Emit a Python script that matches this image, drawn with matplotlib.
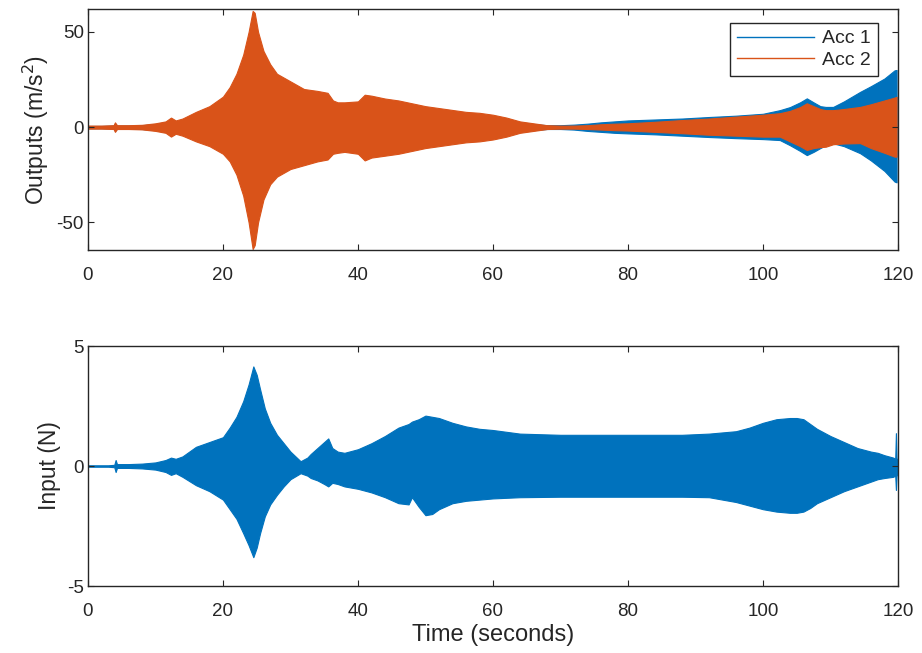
import matplotlib
matplotlib.use("Agg")
import matplotlib.pyplot as plt
from matplotlib.lines import Line2D

plt.rcParams['font.family'] = ['Liberation Sans', 'DejaVu Sans']
plt.rcParams['axes.unicode_minus'] = False

# ---------------- data (envelopes) ----------------
t_out = [0, 2, 3.8, 4.0, 4.3, 6, 8, 10, 11.5, 12.3, 13, 14, 16, 18, 20, 21, 22, 23,
         23.8, 24.4, 24.7, 25.2, 26, 27, 28, 30, 32, 34, 35.5, 36.3, 37, 38, 40, 41,
         42, 44, 46, 48, 50, 52, 54, 56, 58, 60, 62, 64, 66, 68, 70, 72, 74, 76, 78,
         80, 84, 88, 92, 96, 100, 102.5, 104, 105.5, 106.5, 107.5, 108.5, 109.3, 110.4,
         112, 114.4, 116, 118, 119.5, 119.8]

acc2_upper = [0.8, 0.8, 1.0, 2.5, 1.0, 1.0, 1.2, 2.0, 3.0, 5.0, 3.5, 4.5, 8, 11, 16, 21, 28, 38,
              50, 61, 60, 50, 40, 33, 28, 24, 20, 19, 18, 14, 13, 13, 13.5, 17,
              16.5, 15, 14, 12.5, 11, 10, 9, 8, 7.5, 6.5, 5, 3, 2, 1, 0.8, 0.8, 1.0, 1.5, 1.8,
              2.0, 2.8, 3.7, 4.5, 5.5, 6.5, 7.3, 8.5, 10.5, 12.5, 11, 9.5, 8.9, 8.9,
              9.5, 10.6, 12, 14, 15.5, 15.9]
acc2_lower = [-0.8, -0.8, -1.0, -2.5, -1.0, -1.0, -1.2, -2.0, -3.0, -5.0, -3.5, -4.5, -7.5, -10, -14, -18, -25, -36,
              -50, -64, -62, -50, -38, -30, -26, -22, -20, -18, -17, -14, -13.5, -13, -14, -17.5,
              -16, -15, -14, -12.5, -11, -10, -9, -8, -7.5, -6.5, -5, -3, -2, -1, -0.8, -0.8, -1.0, -1.3, -1.6,
              -1.8, -2.5, -3.2, -4.0, -4.5, -5.0, -5.0, -7.5, -10, -12, -11, -10.5, -10.3, -9,
              -8.6, -8.4, -11, -13.5, -15.5, -15.5]

acc1_upper = [0.6, 0.6, 0.8, 2.0, 0.8, 0.8, 1.0, 1.6, 2.5, 4.0, 3.0, 3.5, 6.5, 9, 13, 17, 23, 32,
              42, 52, 51, 42, 33, 27, 23, 20, 17, 16, 15, 12, 11, 11, 11.5, 14,
              14, 12.5, 11.5, 10.5, 9.5, 8.5, 7.5, 6.5, 6, 5, 4, 2.5, 1.6, 1.0, 1.0, 1.3, 1.8, 2.5, 3.0,
              3.5, 4.0, 4.5, 5.3, 6.0, 7.0, 8.9, 10.5, 13, 15.1, 13, 11, 10.6, 10.6,
              13.5, 18.5, 21.5, 25.5, 29.8, 30]
acc1_lower = [-0.6, -0.6, -0.8, -2.0, -0.8, -0.8, -1.0, -1.6, -2.5, -4.0, -3.0, -3.5, -6, -8.5, -12, -15, -21, -30,
              -42, -53, -52, -42, -32, -26, -22, -19, -17, -15.5, -14.5, -12, -11.5, -11, -12, -14.5,
              -13.5, -12.5, -11.5, -10.5, -9.5, -8.5, -7.5, -6.5, -6, -5, -4, -2.5, -1.6, -1.0, -1.0, -1.3, -2.0, -2.5, -3.0,
              -3.3, -3.8, -4.5, -5.2, -5.8, -6.3, -6.8, -9.5, -12.5, -14.7, -13, -11, -9.5, -8.5,
              -10, -13.7, -17.5, -23, -28.6, -29]

t_in = [0, 3.0, 3.9, 4.1, 4.3, 4.6, 6, 8, 10, 11.5, 12.3, 13, 14, 16, 18, 20, 21, 22, 23,
        23.8, 24.5, 25.0, 25.5, 26.2, 27, 28, 29, 30, 31.5, 32.5, 33, 34, 35, 35.6, 36.2,
        37, 38, 40, 42, 44, 46, 47.5, 48, 49, 50, 51, 52, 54, 56, 58, 60, 64, 70, 76,
        82, 88, 92, 96, 98, 100, 102, 104, 105, 106, 107, 108, 110, 112, 114, 116, 117,
        118, 119.3, 119.6, 119.7, 119.8, 120]
in_upper = [0.03, 0.03, 0.05, 0.25, 0.08, 0.08, 0.08, 0.1, 0.15, 0.25, 0.35, 0.3, 0.4, 0.8, 1.0, 1.2, 1.6, 2.05, 2.7,
            3.4, 4.15, 3.8, 3.2, 2.4, 1.8, 1.3, 0.95, 0.6, 0.2, 0.35, 0.5, 0.75, 1.0, 1.15, 0.75,
            0.6, 0.55, 0.7, 0.95, 1.25, 1.6, 1.75, 1.85, 1.95, 2.1, 2.05, 2.0, 1.8, 1.65, 1.55, 1.5, 1.35, 1.3, 1.3,
            1.3, 1.3, 1.35, 1.45, 1.6, 1.8, 1.95, 2.0, 2.0, 1.95, 1.75, 1.55, 1.25, 1.0, 0.75, 0.6, 0.55,
            0.45, 0.35, 0.3, 1.37, 0.3, 0.3]
in_lower = [-0.03, -0.03, -0.05, -0.25, -0.08, -0.08, -0.08, -0.1, -0.15, -0.25, -0.37, -0.3, -0.45, -0.8, -1.05, -1.4, -1.8, -2.2, -2.8,
            -3.3, -3.8, -3.4, -2.8, -2.1, -1.6, -1.2, -0.85, -0.55, -0.3, -0.4, -0.5, -0.6, -0.75, -0.85, -0.7,
            -0.75, -0.85, -0.95, -1.1, -1.3, -1.55, -1.6, -1.3, -1.7, -2.05, -2.0, -1.8, -1.55, -1.45, -1.4, -1.35, -1.3, -1.28, -1.28,
            -1.28, -1.28, -1.3, -1.5, -1.65, -1.8, -1.9, -1.95, -1.95, -1.9, -1.75, -1.55, -1.3, -1.05, -0.85, -0.65, -0.55,
            -0.5, -0.45, -0.4, -1.0, -0.4, -0.35]

x_ticks = [0, 20, 40, 60, 80, 100, 120]
y_ticks_out = [-50, 0, 50]
y_ticks_in = [-5, 0, 5]
series_names = ['Acc 1', 'Acc 2']

BLUE = '#0072BD'
ORANGE = '#D95319'
DARK = '#262626'

fig = plt.figure(figsize=(9.22, 6.53), dpi=100)
ax1 = fig.add_axes([0.0954, 0.6172, 0.8785, 0.3690])
ax2 = fig.add_axes([0.0954, 0.1026, 0.8785, 0.3675])

ax1.fill_between(t_out, acc1_lower, acc1_upper, color=BLUE, lw=0.8, edgecolor=BLUE)
ax1.fill_between(t_out, acc2_lower, acc2_upper, color=ORANGE, lw=0.8, edgecolor=ORANGE)
ax1.set_xlim(0, 120)
ax1.set_ylim(-64.5, 62)
ax1.set_xticks(x_ticks)
ax1.set_yticks(y_ticks_out)
ax1.set_ylabel('Outputs (m/s$^2$)', fontsize=16.5, color=DARK, labelpad=4)
handles = [Line2D([0], [0], color=BLUE, lw=1.0), Line2D([0], [0], color=ORANGE, lw=1.0)]
leg = ax1.legend(handles, series_names, loc='upper right', bbox_to_anchor=(0.975, 0.942),
                 borderaxespad=0, fontsize=14, frameon=True, framealpha=1,
                 fancybox=False, edgecolor=DARK, handlelength=4.0,
                 borderpad=0.35, labelspacing=0.2, handletextpad=0.4)
leg.get_frame().set_linewidth(1.0)
for txt in leg.get_texts():
    txt.set_color(DARK)

ax2.fill_between(t_in, in_lower, in_upper, color=BLUE, lw=0.8, edgecolor=BLUE)
ax2.set_xlim(0, 120)
ax2.set_ylim(-5, 5)
ax2.set_xticks(x_ticks)
ax2.set_yticks(y_ticks_in)
ax2.set_ylabel('Input (N)', fontsize=16.5, color=DARK, labelpad=4)
ax2.set_xlabel('Time (seconds)', fontsize=17, color=DARK, labelpad=3)

for ax in (ax1, ax2):
    ax.tick_params(direction='in', top=True, right=True, length=4, width=0.8,
                   labelsize=13.5, colors=DARK)
    ax.tick_params(axis='x', pad=12)
    ax.tick_params(axis='y', pad=3)
    for s in ax.spines.values():
        s.set_color(DARK)
        s.set_linewidth(1.0)

fig.savefig('out.png', dpi=100)
